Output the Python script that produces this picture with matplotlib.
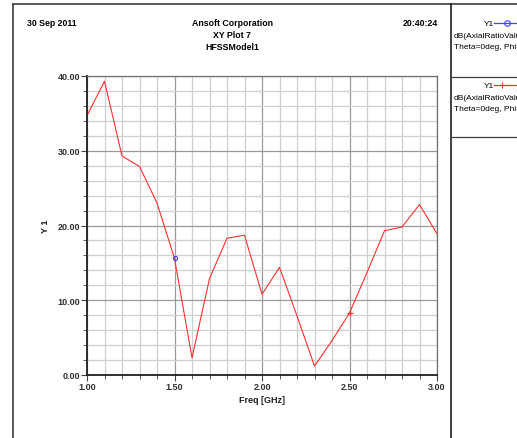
import matplotlib
matplotlib.use("Agg")
import matplotlib.pyplot as plt
from matplotlib.ticker import MultipleLocator
from matplotlib.lines import Line2D

plt.rcParams['font.family'] = ['Liberation Sans Narrow', 'Liberation Sans', 'DejaVu Sans']

# data
freq = [1.0, 1.1, 1.2, 1.3, 1.4, 1.5, 1.6, 1.7, 1.8, 1.9, 2.0,
        2.1, 2.2, 2.3, 2.4, 2.5, 2.6, 2.7, 2.8, 2.9, 3.0]
ar_db = [34.7, 39.3, 29.3, 27.9, 23.0, 15.6, 2.3, 12.9, 18.3, 18.7, 10.8,
         14.4, 7.9, 1.2, 4.6, 8.3, 13.7, 19.3, 19.8, 22.8, 18.9]

header_left = "30 Sep 2011"
header_mid = ["Ansoft Corporation", "XY Plot 7", "HFSSModel1"]
header_right = "20:40:24"
legend1 = ["Y1", "dB(AxialRatioValue)", "Theta=0deg, Phi=0deg"]

W, H = 517, 439
fig = plt.figure(figsize=(W / 100, H / 100), dpi=100)

ax = fig.add_axes([87 / W, (H - 376) / H, 350 / W, 299 / H])

# blue trace sits under the red one, only its marker at 1.5 shows
ax.plot(freq, ar_db, color='#4040ff', lw=0, marker='o', ms=3,
        mfc='none', mew=0.8, markevery=[5], zorder=3)
ax.plot(freq, ar_db, color='#ff3030', lw=0.8, marker='+', ms=5,
        mew=0.9, markevery=[15], zorder=2)

ax.set_xlim(1.0, 3.0)
ax.set_ylim(0, 40)
ax.xaxis.set_major_locator(MultipleLocator(0.5))
ax.xaxis.set_minor_locator(MultipleLocator(0.1))
ax.yaxis.set_major_locator(MultipleLocator(10))
ax.yaxis.set_minor_locator(MultipleLocator(2))
ax.xaxis.set_major_formatter(lambda v, p: f"{v:.2f}")
ax.yaxis.set_major_formatter(lambda v, p: f"{v:.2f}")

ax.grid(which='major', color='#9a9a9a', lw=0.9)
ax.grid(which='minor', color='#cfcfcf', lw=0.9)
ax.set_axisbelow(True)

for s in ['left', 'bottom']:
    ax.spines[s].set_color('#202020')
    ax.spines[s].set_linewidth(1.3)
for s in ['top', 'right']:
    ax.spines[s].set_color('#707070')
    ax.spines[s].set_linewidth(0.9)

ax.tick_params(which='major', length=4, width=0.8, color='#404040',
               labelsize=6.5, labelcolor='#303030', pad=1)
ax.tick_params(which='minor', length=3, width=0.6, color='#404040')
for lab in ax.get_xticklabels() + ax.get_yticklabels():
    lab.set_fontweight('bold')

ax.set_xlabel("Freq [GHz]", fontsize=6.5, fontweight='bold', color='#202020', labelpad=3)
ax.set_ylabel("Y 1", fontsize=6.5, fontweight='bold', color='#202020', labelpad=5)

# header
fig.text(27 / W, 1 - 23 / H, header_left, fontsize=6.3, fontweight='bold', va='center', ha='left')
for i, t in enumerate(header_mid):
    fig.text(232 / W, 1 - (23 + 12.5 * i) / H, t, fontsize=6.3, fontweight='bold',
             va='center', ha='center')
fig.text(438 / W, 1 - 23 / H, header_right, fontsize=6.3, fontweight='bold', va='center', ha='right')

# frame lines
fig.add_artist(Line2D([13 / W, 13 / W], [0, 1 - 5 / H], color='#404040', lw=1.2))
fig.add_artist(Line2D([13 / W, 1], [1 - 5 / H, 1 - 5 / H], color='#404040', lw=1.2))
fig.add_artist(Line2D([451 / W, 451 / W], [0, 1 - 5 / H], color='#202020', lw=1.2))
fig.add_artist(Line2D([451 / W, 1], [1 - 77.5 / H, 1 - 77.5 / H], color='#404040', lw=0.9))
fig.add_artist(Line2D([451 / W, 1], [1 - 137.5 / H, 1 - 137.5 / H], color='#404040', lw=0.9))

# legend panel
for col, mk, mx, y0 in [('#4040ff', 'o', 507, 24), ('#ff3030', '+', 502, 86)]:
    yy = 1 - y0 / H
    fig.text(494 / W, yy, legend1[0], fontsize=6, va='center', ha='right')
    fig.add_artist(Line2D([494 / W, 1], [yy, yy], color=col, lw=0.9))
    fig.add_artist(Line2D([mx / W], [yy], color=col, marker=mk, ms=4,
                          mfc='none', mew=0.8))
    fig.text(454 / W, 1 - (y0 + 12) / H, legend1[1], fontsize=6, va='center', ha='left')
    fig.text(454 / W, 1 - (y0 + 23.5) / H, legend1[2], fontsize=6, va='center', ha='left')

fig.savefig("out.png", dpi=100)
